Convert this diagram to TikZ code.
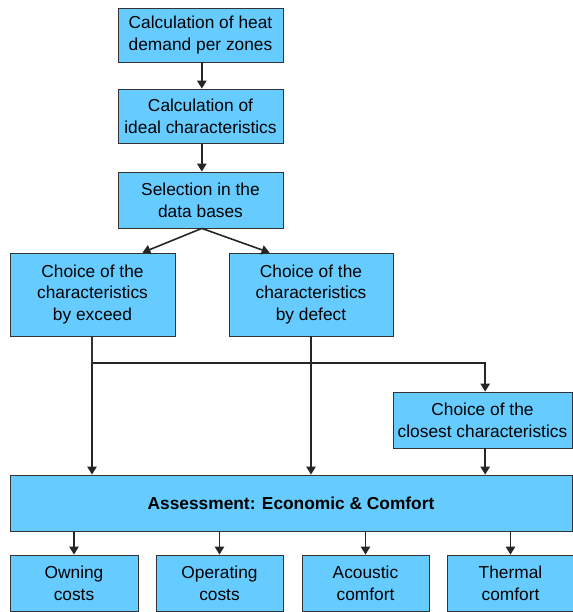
\documentclass[tikz,border=0pt]{standalone}
\usepackage{fontspec}
\setmainfont{Liberation Sans}
\usetikzlibrary{arrows.meta,shadows,calc}
\definecolor{boxblue}{HTML}{66CCFF}
\definecolor{boxline}{HTML}{333333}
\tikzset{
  bx/.style={draw=boxline, line width=0.6pt, fill=boxblue, align=center, inner sep=0pt,
    font=\fontsize{13pt}{16.3pt}\selectfont,
    drop shadow={shadow xshift=1.1pt, shadow yshift=-1.1pt, fill=black!75, opacity=1}},
  arr/.style={line width=1.2pt, draw=black!85, -{Triangle[width=7pt,length=6pt]}},
  ln/.style={line width=1.2pt, draw=black!80},
}
\begin{document}
\begin{tikzpicture}[x=0.75pt,y=-0.75pt]
\useasboundingbox (0,0) rectangle (573,612);
\node[bx, minimum width=123.75pt, minimum height=40.5pt] (b1) at (200.5,35) {Calculation of heat\\demand per zones};
\node[bx, minimum width=123.75pt, minimum height=40.5pt] (b2) at (200.5,116) {Calculation of\\ideal characteristics};
\node[bx, minimum width=123.75pt, minimum height=42pt] (b3) at (200.5,200) {Selection in the\\data bases};
\node[bx, minimum width=123.75pt, minimum height=62.25pt] (b4) at (92.5,294.5) {Choice of the\\characteristics\\by exceed};
\node[bx, minimum width=123pt, minimum height=62.25pt] (b5) at (311,294.5) {Choice of the\\characteristics\\by defect};
\node[bx, minimum width=134.25pt, minimum height=42pt] (b6) at (482.5,420) {Choice of the\\closest characteristics};
\node[bx, minimum width=421.5pt, minimum height=42pt, font=\fontsize{13pt}{16.3pt}\selectfont\bfseries] (b7) at (291,503) {Assessment: Economic \& Comfort};
\node[bx, minimum width=96pt, minimum height=42pt] (o1) at (74,583) {Owning\\costs};
\node[bx, minimum width=95.25pt, minimum height=42pt] (o2) at (219.5,583) {Operating\\costs};
\node[bx, minimum width=95.25pt, minimum height=42pt] (o3) at (365.5,583) {Acoustic\\comfort};
\node[bx, minimum width=94.5pt, minimum height=42pt] (o4) at (510.5,583) {Thermal\\comfort};

\draw[arr] ([xshift=1pt]b1.south) -- ([xshift=1pt]b2.north);
\draw[arr] ([xshift=1pt]b2.south) -- ([xshift=1pt]b3.north);
\coordinate (t4) at ($(b4.north east)+(-33,0)$);
\coordinate (t5) at ($(b5.north west)+(41,0)$);
\draw[arr] ([xshift=1pt]b3.south) -- (t4);
\draw[arr] ([xshift=1pt]b3.south) -- (t5);

\coordinate (j) at (92,363);
\draw[ln] (b4.south -| j) -- (j);
\draw[arr] (j) -- (b7.north -| j);
\draw[arr] (b5.south) -- (b7.north -| b5.south);
\draw[arr] (j) -| ([xshift=2pt]b6.north);
\draw[arr] ([xshift=2pt]b6.south) -- (b7.north -| {$(b6.south)+(2pt,0)$});

\draw[arr] (b7.south -| o1.north) -- (o1.north);
\draw[arr] (b7.south -| o2.north) -- (o2.north);
\draw[arr] (b7.south -| o3.north) -- (o3.north);
\draw[arr] (b7.south -| o4.north) -- (o4.north);
\end{tikzpicture}
\end{document}
